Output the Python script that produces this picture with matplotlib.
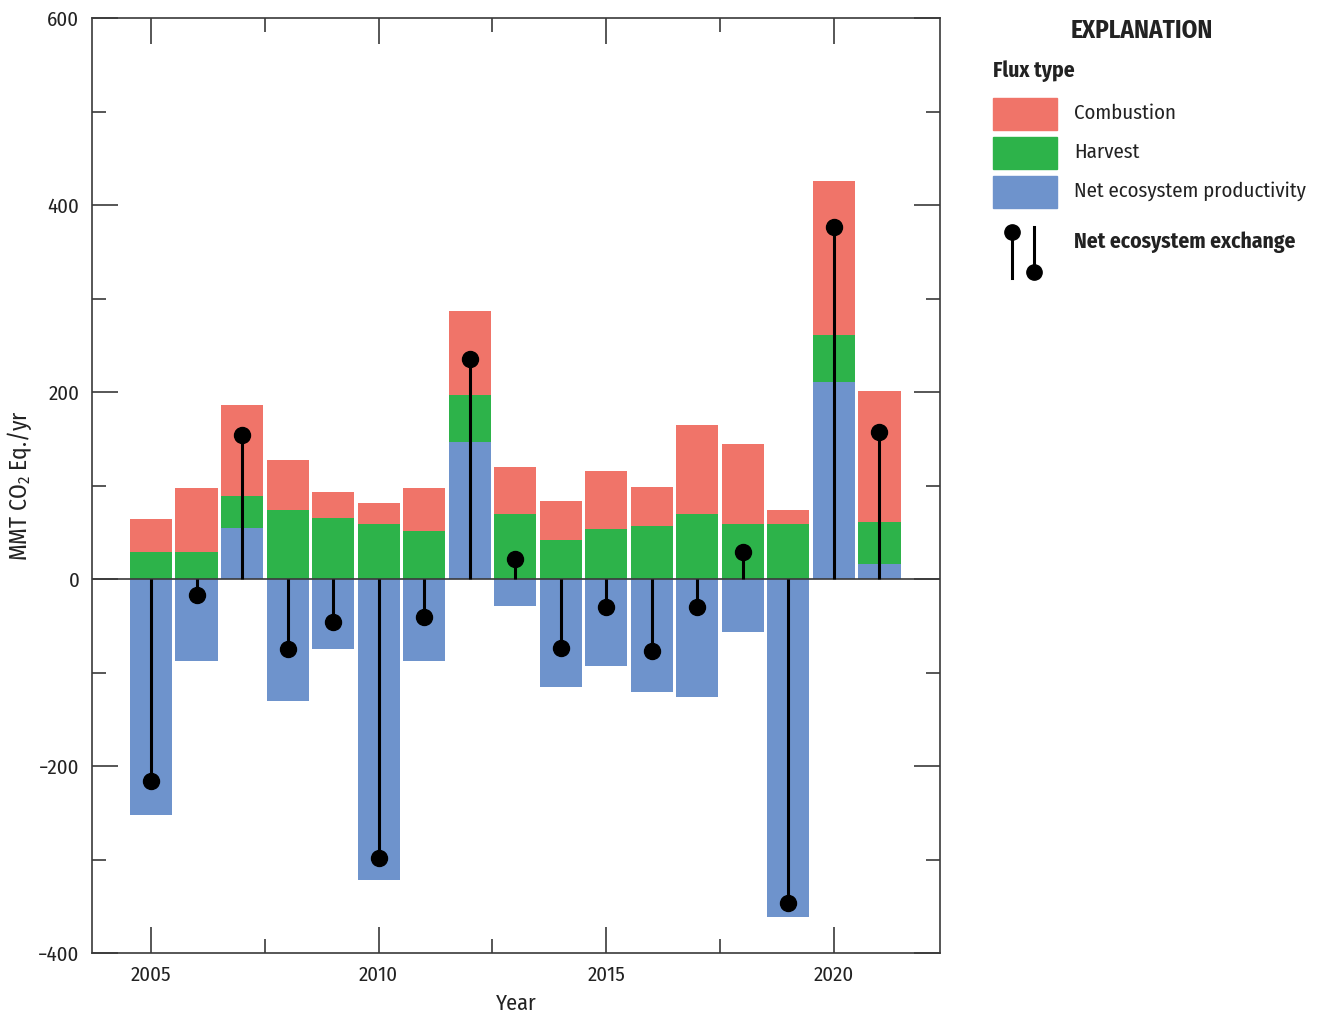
import matplotlib
matplotlib.use("Agg")
import matplotlib.pyplot as plt
from matplotlib.patches import Rectangle
from matplotlib.lines import Line2D
import numpy as np

FONT = ['Fira Sans Condensed', 'Archivo Narrow', 'DejaVu Sans']
plt.rcParams['font.family'] = FONT
plt.rcParams['mathtext.fontset'] = 'custom'
plt.rcParams['mathtext.rm'] = 'Fira Sans Condensed'
plt.rcParams['mathtext.it'] = 'Fira Sans Condensed'
plt.rcParams['mathtext.bf'] = 'Fira Sans Condensed:bold'

years = [2005, 2006, 2007, 2008, 2009, 2010, 2011, 2012, 2013, 2014, 2015, 2016, 2017, 2018, 2019, 2020, 2021]
nep = [-252, -88, 55, -130, -75, -322, -88, 147, -29, -116, -93, -121, -126, -57, -361, 211, 16]
harvest = [29, 29, 34, 74, 65, 59, 51, 50, 70, 42, 53, 57, 70, 59, 59, 50, 45]
combustion = [35, 68, 97, 53, 28, 22, 46, 90, 50, 41, 63, 41, 95, 85, 15, 165, 140]
nee = [-216, -17, 154, -75, -46, -298, -41, 235, 21, -74, -30, -77, -30, 29, -347, 376, 157]

c_comb = '#F07469'
c_harv = '#2DB34A'
c_nep = '#6E93CC'
dark = '#3a3a3a'
txt = '#222222'

fig = plt.figure(figsize=(13.2, 10.17), dpi=100)
ax = fig.add_axes([92/1320, 1-953/1017, (940-92)/1320, (953-18)/1017])

x = np.array(years, dtype=float)
nep_a = np.array(nep, dtype=float)
harv_a = np.array(harvest, dtype=float)
comb_a = np.array(combustion, dtype=float)
base = np.where(nep_a > 0, nep_a, 0)
w = 0.925
ax.bar(x, nep_a, width=w, color=c_nep, zorder=2)
ax.bar(x, harv_a, bottom=base, width=w, color=c_harv, zorder=2)
ax.bar(x, comb_a, bottom=base + harv_a, width=w, color=c_comb, zorder=2)

ax.axhline(0, color=dark, lw=1.2, zorder=3)
ax.vlines(x, 0, nee, color='black', lw=2.2, zorder=4)
ax.plot(x, nee, 'o', color='black', ms=11.5, zorder=5)

ax.set_xlim(2003.704, 2022.33)
ax.set_ylim(-400, 600)
ax.set_xticks([2005, 2010, 2015, 2020])
ax.set_xticks([2007.5, 2012.5, 2017.5], minor=True)
ax.set_yticks([-400, -200, 0, 200, 400, 600])
ax.set_yticklabels(['\u2212400', '\u2212200', '0', '200', '400', '600'])
ax.set_yticks([-300, -100, 100, 300, 500], minor=True)
ax.tick_params(which='both', direction='in', top=True, right=True, color=dark, labelsize=15, labelcolor=txt)
ax.tick_params(which='major', length=19, width=1.2, pad=9)
ax.tick_params(which='minor', length=10, width=1.2)
for s in ax.spines.values():
    s.set_color(dark)
    s.set_linewidth(1.2)

ax.set_xlabel('Year', fontsize=16, color=txt, labelpad=6)
ax.set_ylabel('MMT CO$_2$ Eq./yr', fontsize=17, color=txt)
ax.yaxis.set_label_coords(-58/848, 0.5)

# Legend (explanation)
def fx(px):
    return px / 1320
def fy(py):
    return 1 - py / 1017

fig.text(fx(1142), fy(31), 'EXPLANATION', fontsize=18, fontweight='bold', ha='center', va='center', color=txt)
fig.text(fx(993), fy(71), 'Flux type', fontsize=15.5, fontweight='bold', ha='left', va='center', color=txt)
items = [(c_comb, 'Combustion', 114), (c_harv, 'Harvest', 153), (c_nep, 'Net ecosystem productivity', 192)]
for col, lab, cy in items:
    fig.patches.append(Rectangle((fx(993), fy(cy + 16)), fx(64), 32/1017, transform=fig.transFigure, color=col))
    fig.text(fx(1074), fy(cy - 1), lab, fontsize=15, ha='left', va='center', color=txt)

fig.lines.append(Line2D([fx(1012), fx(1012)], [fy(232), fy(278)], transform=fig.transFigure, color='black', lw=2.2))
fig.lines.append(Line2D([fx(1012)], [fy(232)], transform=fig.transFigure, marker='o', color='black', ms=11))
fig.lines.append(Line2D([fx(1034), fx(1034)], [fy(227), fy(272)], transform=fig.transFigure, color='black', lw=2.2))
fig.lines.append(Line2D([fx(1034)], [fy(272)], transform=fig.transFigure, marker='o', color='black', ms=11))
fig.text(fx(1074), fy(242), 'Net ecosystem exchange', fontsize=15.5, fontweight='bold', ha='left', va='center', color=txt)

fig.savefig('out.png', dpi=100)
